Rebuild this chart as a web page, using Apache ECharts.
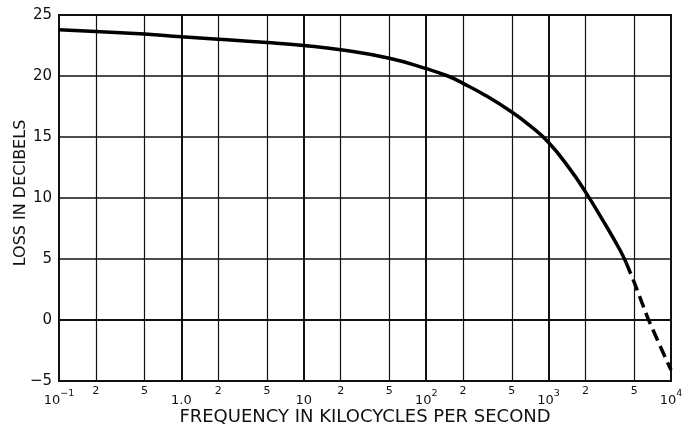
<!DOCTYPE html>
<html>
<head>
<meta charset="utf-8">
<script src="https://cdn.jsdelivr.net/npm/echarts@6/dist/echarts.min.js"></script>
<style>
html,body{margin:0;padding:0;background:#fff;}
#chart{width:686px;height:428px;}
</style>
</head>
<body>
<div id="chart"></div>
<script>
// Measured curve (frequency in kc, loss in dB)
const solidFreq = [0.1, 0.2, 0.5, 1, 2, 5, 10, 20, 50, 100, 150, 200, 300, 500, 700, 1000, 1500, 2000, 2800, 3800, 4300];
const solidLoss = [23.8, 23.65, 23.45, 23.22, 23.02, 22.75, 22.5, 22.15, 21.45, 20.6, 20.0, 19.4, 18.45, 17.05, 15.95, 14.55, 12.35, 10.5, 8.1, 5.8, 4.7];
const dashFreq = [4300, 5000, 6500, 8000, 10000];
const dashLoss = [4.7, 3.1, 0.1, -1.95, -4.1];

// Axis labels: base and exponent per decade
const decadeBase = ['10', '1.0', '10', '10', '10', '10'];
const decadeExp = ['\u22121', '', '', '2', '3', '4'];
const minorFreq = [0.2, 0.5, 2, 5, 20, 50, 200, 500, 2000, 5000];
const minorLabels = ['2', '5', '2', '5', '2', '5', '2', '5', '2', '5'];
const xTitle = 'FREQUENCY IN KILOCYCLES PER SECOND';
const yTitle = 'LOSS IN DECIBELS';

const FONT = 'DejaVu Sans';
const chart = echarts.init(document.getElementById('chart'), null, {renderer: 'canvas'});

const solidData = solidFreq.map((f, i) => [f, solidLoss[i]]);
const dashData = dashFreq.map((f, i) => [f, dashLoss[i]]);

const option = {
  animation: false,
  backgroundColor: '#fff',
  grid: {left: 59, right: 15, top: 15, bottom: 47, containLabel: false, outerBoundsMode: 'none',
         show: true, borderColor: '#111', borderWidth: 2, backgroundColor: 'transparent'},
  xAxis: {
    type: 'log', logBase: 10, min: 0.1, max: 10000,
    name: xTitle, nameLocation: 'middle', nameGap: 27, nameMoveOverlap: false,
    nameTextStyle: {fontFamily: FONT, fontSize: 18, color: '#111'},
    axisLine: {show: true, lineStyle: {color: '#111', width: 2}},
    axisTick: {show: false},
    minorTick: {show: false},
    splitLine: {show: true, lineStyle: {color: '#111', width: 2}},
    axisLabel: {
      fontFamily: FONT, fontSize: 13, color: '#111', margin: 8,
      formatter: function (v) {
        const i = Math.round(Math.log10(v)) + 1;
        return decadeExp[i] ? '{b|' + decadeBase[i] + '}{s|' + decadeExp[i] + '}' : '{b|' + decadeBase[i] + '}';
      },
      rich: {
        b: {fontFamily: FONT, fontSize: 13, color: '#111', lineHeight: 18, verticalAlign: 'bottom'},
        s: {fontFamily: FONT, fontSize: 9.5, color: '#111', lineHeight: 18, verticalAlign: 'top'}
      }
    }
  },
  yAxis: {
    type: 'value', min: -5, max: 25, interval: 5,
    name: yTitle, nameLocation: 'middle', nameGap: 30, nameRotate: 90, nameMoveOverlap: false,
    nameTextStyle: {fontFamily: FONT, fontSize: 16, color: '#111', padding: [0, 0, 0, 10]},
    axisLine: {show: true, lineStyle: {color: '#111', width: 2}},
    axisTick: {show: false},
    splitLine: {show: true, lineStyle: {color: '#111', width: 1.5}},
    axisLabel: {
      fontFamily: FONT, fontSize: 15, color: '#111', margin: 7,
      formatter: function (v) { return v < 0 ? '\u2212' + Math.abs(v) : String(v); }
    }
  },
  series: [
    {
      type: 'line', data: solidData, smooth: 0.5, showSymbol: false,
      lineStyle: {color: '#000', width: 3.5}, z: 5,
      markLine: {
        silent: true, symbol: 'none', animation: false,
        lineStyle: {color: '#111', width: 1.2, type: 'solid'},
        label: {
          show: true, position: 'start', distance: 5,
          fontFamily: FONT, fontSize: 11, color: '#111',
          formatter: function (p) { return minorLabels[p.dataIndex]; }
        },
        data: minorFreq.map(f => ({xAxis: f}))
      }
    },
    {
      type: 'line', data: dashData, smooth: false, showSymbol: false,
      lineStyle: {color: '#000', width: 3.5, type: [12, 6]}, z: 5
    }
  ]
};
chart.setOption(option);
</script>
</body>
</html>
